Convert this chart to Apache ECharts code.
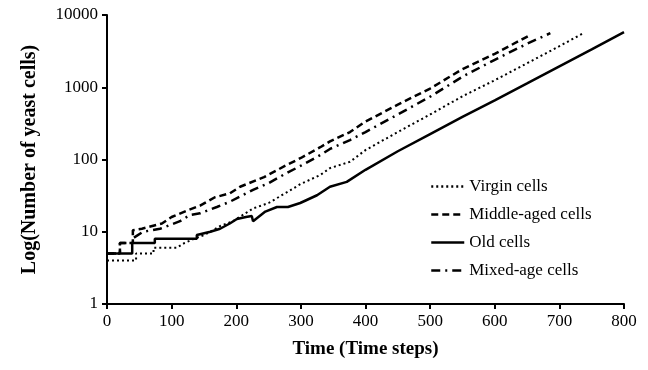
<!DOCTYPE html>
<html>
<head>
<meta charset="utf-8">
<script src="https://cdn.jsdelivr.net/npm/echarts@6/dist/echarts.min.js"></script>
<style>
  html, body { margin: 0; padding: 0; background: #fff; }
  #chart { width: 648px; height: 370px; }
</style>
</head>
<body>
<div id="chart"></div>
<script>
// values (time step, number of cells)
const virginT = [0, 45, 45, 72, 72, 108, 120, 135, 150, 160, 175, 195, 226, 250, 278, 300, 330, 345, 376, 400, 450, 500, 550, 600, 650, 700, 737];
const virginV = [4, 4, 5, 5, 6, 6, 7, 8, 9, 10, 12, 14, 21, 25, 35, 46, 61, 76, 93, 135, 240, 420, 750, 1250, 2150, 3700, 5600];

const middleT = [0, 20, 20, 40, 40, 54, 85, 100, 126, 144, 167, 190, 206, 243, 278, 300, 330, 345, 376, 400, 450, 500, 550, 600, 655];
const middleV = [5, 5, 7, 7, 10.5, 11, 13, 16, 20, 23, 30, 34, 42, 57, 84, 105, 148, 178, 240, 335, 575, 960, 1780, 2900, 5300];

const oldT = [0, 39, 39, 74, 74, 139, 139, 160, 175, 190, 201, 215, 224, 226, 245, 263, 280, 299, 325, 345, 371, 400, 450, 500, 550, 600, 650, 700, 750, 800];
const oldV = [5, 5, 7, 7, 8, 8, 9, 10, 11, 13, 15, 16, 16.5, 14, 19, 22, 22, 25, 32, 42, 49, 72, 130, 225, 390, 660, 1130, 1950, 3350, 5800];

const mixedT = [0, 20, 20, 39, 39, 56, 82, 113, 128, 144, 170, 190, 226, 250, 278, 300, 330, 345, 376, 400, 450, 500, 550, 600, 650, 686];
const mixedV = [5, 5, 7, 7, 8, 10, 11, 14, 17, 18, 22, 26, 38, 47, 65, 82, 115, 140, 186, 240, 420, 740, 1400, 2400, 4000, 5600];

const xTicks = [0, 100, 200, 300, 400, 500, 600, 700, 800];

const pairs = (ts, vs) => ts.map((t, i) => [t, vs[i]]);

const serif = 'Liberation Serif, Times New Roman, serif';
const chart = echarts.init(document.getElementById('chart'));

const lineSeries = (name, ts, vs, type, width) => ({
  name: name,
  type: 'line',
  data: pairs(ts, vs),
  showSymbol: false,
  symbol: 'none',
  lineStyle: { color: '#000', width: width, type: type },
  itemStyle: { color: '#000' },
  z: 3
});

chart.setOption({
  animation: false,
  backgroundColor: '#fff',
  grid: { left: 107, right: 24, top: 15, bottom: 66 },
  legend: {
    orient: 'vertical',
    left: 425,
    top: 173,
    itemWidth: 33,
    itemHeight: 14,
    itemGap: 11,
    itemStyle: { opacity: 0 },
    lineStyle: { width: 2.5 },
    textStyle: { fontFamily: serif, fontSize: 17, color: '#000' },
    data: ['Virgin cells', 'Middle-aged cells', 'Old cells', 'Mixed-age cells']
  },
  xAxis: {
    type: 'value',
    min: 0,
    max: 800,
    interval: 100,
    name: 'Time (Time steps)',
    nameLocation: 'middle',
    nameGap: 36,
    nameTextStyle: { fontFamily: serif, fontSize: 19, fontWeight: 'bold', color: '#000' },
    axisLine: { lineStyle: { color: '#000', width: 2 } },
    axisTick: { show: true, length: 5, lineStyle: { color: '#000', width: 2 } },
    axisLabel: {
      fontFamily: serif, fontSize: 17, color: '#000', margin: 9,
      formatter: v => (xTicks.indexOf(v) >= 0 ? String(v) : '')
    },
    splitLine: { show: false }
  },
  yAxis: {
    type: 'log',
    logBase: 10,
    min: 1,
    max: 10000,
    name: 'Log(Number of yeast cells)',
    nameLocation: 'middle',
    nameGap: 67,
    nameTextStyle: { fontFamily: serif, fontSize: 20, fontWeight: 'bold', color: '#000' },
    axisLine: { lineStyle: { color: '#000', width: 2 } },
    axisTick: { show: true, length: 5, lineStyle: { color: '#000', width: 2 } },
    axisLabel: {
      fontFamily: serif, fontSize: 17, color: '#000', margin: 9,
      formatter: v => String(Math.round(v))
    },
    splitLine: { show: false }
  },
  series: [
    lineSeries('Virgin cells', virginT, virginV, [2, 3], 2),
    lineSeries('Middle-aged cells', middleT, middleV, [7, 4], 2.5),
    lineSeries('Old cells', oldT, oldV, 'solid', 2.5),
    lineSeries('Mixed-age cells', mixedT, mixedV, [9, 5, 2, 5], 2.5)
  ]
});
</script>
</body>
</html>
